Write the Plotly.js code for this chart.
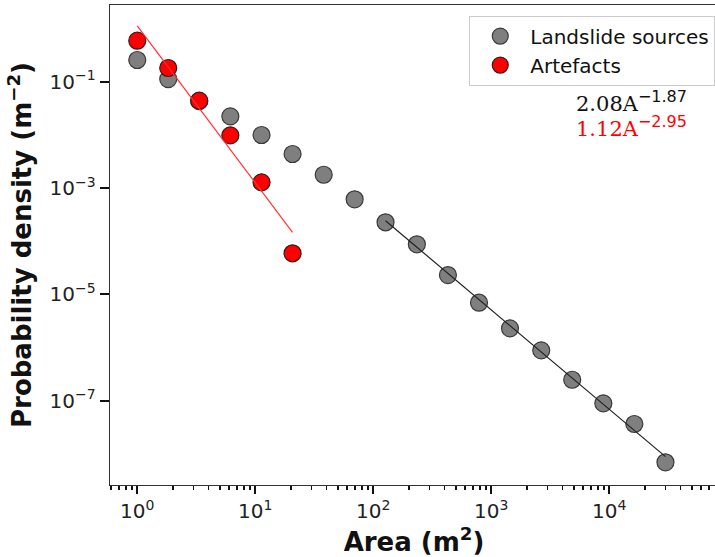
<!DOCTYPE html>
<html>
<head>
<meta charset="utf-8">
<script src="https://cdn.plot.ly/plotly-3.0.1.min.js"></script>
<style>
html,body{margin:0;padding:0;overflow:hidden;background:#fff;}
#plot{width:718px;height:557px;}
</style>
</head>
<body>
<div id="plot"></div>
<script>
// Landslide sources (gray)
const landArea = [1, 1.83, 3.35, 6.15, 11.3, 20.7, 38, 69.5, 127, 234, 429, 787, 1440, 2650, 4850, 8900, 16300, 29900];
const landDensity = [0.256, 0.112, 0.043, 0.0223, 0.00995, 0.00437, 0.00178, 6.14e-4, 2.27e-4, 8.75e-5, 2.31e-5, 6.97e-6, 2.30e-6, 8.87e-7, 2.48e-7, 8.93e-8, 3.65e-8, 6.95e-9];
// Artefacts (red)
const artArea = [1, 1.83, 3.35, 6.15, 11.3, 20.7];
const artDensity = [0.59, 0.181, 0.044, 0.0098, 0.00128, 5.93e-5];
// Fit lines (end points)
const landFitArea = [127, 29900];
const landFitDensity = [2.42e-4, 8.87e-9];
const artFitArea = [1, 20.7];
const artFitDensity = [1.12, 1.47e-4];
// Tick labels
const xTickVals = [1, 10, 100, 1000, 10000];
const xTickText = ['10<sup>0</sup>', '10<sup>1</sup>', '10<sup>2</sup>', '10<sup>3</sup>', '10<sup>4</sup>'];
const yTickVals = [1e-1, 1e-3, 1e-5, 1e-7];
const yTickText = ['10<sup>\u22121</sup>', '10<sup>\u22123</sup>', '10<sup>\u22125</sup>', '10<sup>\u22127</sup>'];

const font = 'DejaVu Sans, sans-serif';

const traces = [
  {x: landArea, y: landDensity, mode: 'markers', type: 'scatter', name: 'Landslide sources',
   marker: {size: 17, color: '#7f7f7f', line: {color: '#3a3a3a', width: 1.2}}},
  {x: landFitArea, y: landFitDensity, mode: 'lines', type: 'scatter', showlegend: false,
   line: {color: '#222222', width: 1.2}},
  {x: artArea, y: artDensity, mode: 'markers', type: 'scatter', name: 'Artefacts',
   marker: {size: 17, color: '#ff0000', line: {color: '#3a1a1a', width: 1.2}}},
  {x: artFitArea, y: artFitDensity, mode: 'lines', type: 'scatter', showlegend: false,
   line: {color: '#ff3333', width: 1.2}}
];

const layout = {
  width: 718, height: 557,
  margin: {l: 110, r: 0, t: 5, b: 72},
  paper_bgcolor: '#fff', plot_bgcolor: '#fff',
  showlegend: true,
  font: {family: font, size: 19, color: '#222'},
  xaxis: {
    type: 'log', range: [-0.231, 4.921],
    tickmode: 'array', tickvals: xTickVals, ticktext: xTickText,
    ticks: 'outside', ticklen: 8, tickwidth: 2, tickcolor: '#111',
    minor: {dtick: 'D1', ticks: 'outside', ticklen: 4, tickwidth: 1.5, tickcolor: '#111'},
    showgrid: false, zeroline: false,
    showline: true, linecolor: '#333', linewidth: 1.3, mirror: true,
    tickfont: {family: font, size: 20, color: '#222'},
    title: {text: 'Area (m<sup>2</sup>)', font: {family: 'DejaVu Sans, sans-serif', size: 26, color: '#111', weight: 'bold'}, standoff: 12}
  },
  yaxis: {
    type: 'log', range: [-8.585, 0.4425],
    tickmode: 'array', tickvals: yTickVals, ticktext: yTickText,
    ticks: 'outside', ticklen: 9, tickwidth: 2, tickcolor: '#111',
    showgrid: false, zeroline: false,
    showline: true, linecolor: '#333', linewidth: 1.3, mirror: true,
    tickfont: {family: font, size: 20, color: '#222'},
    title: {text: 'Probability density (m<sup>\u22122</sup>)', font: {family: 'DejaVu Sans, sans-serif', size: 26, color: '#111', weight: 'bold'}, standoff: 10}
  },
  legend: {
    x: 0.9955, xanchor: 'right', y: 0.978, yanchor: 'top',
    bgcolor: '#fff', bordercolor: '#cccccc', borderwidth: 1,
    font: {family: font, size: 20, color: '#111'},
    itemwidth: 50, tracegroupgap: 0
  },
  annotations: [
    {xref: 'paper', yref: 'paper', x: 0.763, y: 0.798, xanchor: 'left', yanchor: 'middle', showarrow: false,
     text: '2.08A<sup><span style="font-family:DejaVu Sans;font-size:16px">\u22121.87</span></sup>',
     font: {family: 'DejaVu Serif, serif', size: 21, color: '#111'}},
    {xref: 'paper', yref: 'paper', x: 0.763, y: 0.746, xanchor: 'left', yanchor: 'middle', showarrow: false,
     text: '1.12A<sup><span style="font-family:DejaVu Sans;font-size:16px">\u22122.95</span></sup>',
     font: {family: 'DejaVu Serif, serif', size: 21, color: '#ff0000'}}
  ]
};

Plotly.newPlot('plot', traces, layout, {displayModeBar: false, staticPlot: true});
</script>
</body>
</html>
